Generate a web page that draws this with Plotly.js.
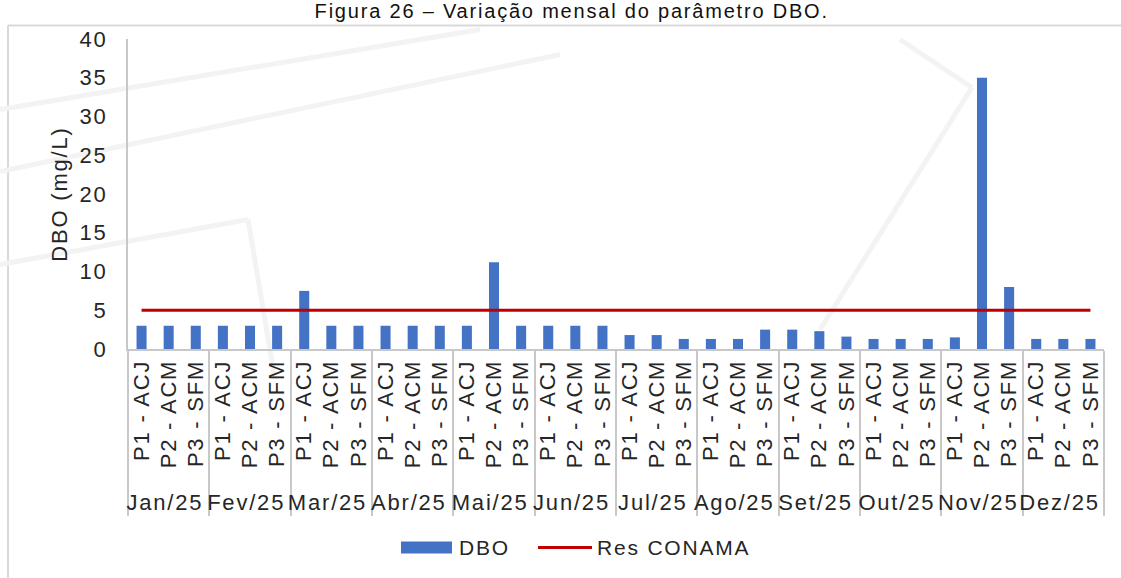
<!DOCTYPE html>
<html>
<head>
<meta charset="utf-8">
<script src="https://cdn.plot.ly/plotly-3.0.1.min.js"></script>
<style>
html,body{margin:0;padding:0;background:#fff;}
#chart{width:1121px;height:578px;}
svg text{letter-spacing:1.8px;}
</style>
</head>
<body>
<div id="chart"></div>
<script>
// ---- data ----
const months = ['Jan/25','Fev/25','Mar/25','Abr/25','Mai/25','Jun/25','Jul/25','Ago/25','Set/25','Out/25','Nov/25','Dez/25'];
const sites = ['P1 - ACJ','P2 - ACM','P3 - SFM'];
const dbo = [
  3, 3, 3,
  3, 3, 3,
  7.5, 3, 3,
  3, 3, 3,
  3, 11.2, 3,
  3, 3, 3,
  1.8, 1.8, 1.3,
  1.3, 1.3, 2.5,
  2.5, 2.3, 1.6,
  1.3, 1.3, 1.3,
  1.5, 35, 8,
  1.3, 1.3, 1.3
];
const conama = [
  5, 5, 5, 5, 5, 5, 5, 5, 5, 5, 5, 5,
  5, 5, 5, 5, 5, 5, 5, 5, 5, 5, 5, 5,
  5, 5, 5, 5, 5, 5, 5, 5, 5, 5, 5, 5
];
const yTicks = [0, 5, 10, 15, 20, 25, 30, 35, 40];
const seriesNames = ['DBO', 'Res CONAMA'];

// multicategory coordinates built from the category arrays
const outer = [], inner = [];
months.forEach(m => sites.forEach(s => { outer.push(m); inner.push(s); }));

const FONT = 'Liberation Sans, Arial, sans-serif';
const TXT = '#262626';
const GRID = '#c8c8c8';
const BAR = '#4472c4';
const RED = '#c00000';

const traces = [
  {
    type: 'bar', name: seriesNames[0], x: [outer, inner], y: dbo,
    marker: {color: BAR}, showlegend: false
  },
  {
    type: 'scatter', mode: 'lines', name: seriesNames[1], x: [outer, inner], y: conama,
    line: {color: RED, width: 3}, showlegend: false
  }
];

// pixel helpers for paper-positioned decorations (plot area: x 128..1104, y 39.5..349.5)
const px = v => (v - 128) / 976;
const py = v => (349.5 - v) / 310;

const wm = '#f3f3f3';
const wmLine = (x0, y0, x1, y1) => ({type: 'line', xref: 'paper', yref: 'paper', layer: 'below',
  x0: px(x0), y0: py(y0), x1: px(x1), y1: py(y1), line: {color: wm, width: 5}});

const layout = {
  width: 1121, height: 578,
  margin: {l: 128, r: 17, t: 39, b: 229},
  paper_bgcolor: '#fff', plot_bgcolor: 'rgba(0,0,0,0)',
  font: {family: FONT, size: 22, color: TXT},
  title: {
    text: 'Figura 26 – Variação mensal do parâmetro DBO.',
    font: {family: FONT, size: 20, color: '#111'},
    x: 0.51, xanchor: 'center', y: 1 - 4 / 578, yanchor: 'top', yref: 'container',
    pad: {t: 0, b: 0}
  },
  bargap: 0.63,
  showlegend: false,
  xaxis: {
    type: 'multicategory',
    showline: true, linecolor: GRID, linewidth: 2,
    showgrid: false, zeroline: false, ticks: '',
    tickangle: -90,
    showdividers: true, dividercolor: GRID, dividerwidth: 2,
    tickfont: {family: FONT, size: 22, color: TXT}
  },
  yaxis: {
    range: [0, 40], tickvals: yTicks, ticktext: yTicks.map(String),
    showline: true, linecolor: GRID, linewidth: 2,
    showgrid: false, zeroline: false, ticks: '',
    tickfont: {family: FONT, size: 22, color: TXT},
    ticklabelstandoff: 14,
    title: {text: 'DBO (mg/L)', font: {family: FONT, size: 22, color: TXT}, standoff: 6}
  },
  shapes: [
    // chart-area border
    {type: 'line', xref: 'paper', yref: 'paper', layer: 'below',
     x0: px(8), x1: 1.1, y0: py(26), y1: py(26), line: {color: '#d9d9d9', width: 2}},
    {type: 'line', xref: 'paper', yref: 'paper', layer: 'below',
     x0: px(8), x1: px(8), y0: py(26), y1: -1, line: {color: '#d9d9d9', width: 2}},
    // faint watermark strokes
    wmLine(0, 110, 480, 30),
    wmLine(0, 172, 560, 55),
    wmLine(0, 265, 248, 220),
    wmLine(248, 220, 275, 380),
    wmLine(900, 40, 972, 88),
    wmLine(972, 88, 820, 330),
    // legend swatches
    {type: 'rect', xref: 'paper', yref: 'paper', x0: px(401), x1: px(452), y0: py(554), y1: py(542),
     fillcolor: BAR, line: {width: 0}},
    {type: 'line', xref: 'paper', yref: 'paper', x0: px(538), x1: px(592), y0: py(548), y1: py(548),
     line: {color: RED, width: 3}}
  ],
  annotations: [
    {xref: 'paper', yref: 'paper', x: px(457), y: py(548), xanchor: 'left', yanchor: 'middle',
     text: seriesNames[0], showarrow: false, font: {family: FONT, size: 21, color: TXT}},
    {xref: 'paper', yref: 'paper', x: px(595), y: py(548), xanchor: 'left', yanchor: 'middle',
     text: seriesNames[1], showarrow: false, font: {family: FONT, size: 21, color: TXT}}
  ]
};

Plotly.newPlot('chart', traces, layout, {displayModeBar: false, responsive: false});
</script>
</body>
</html>
